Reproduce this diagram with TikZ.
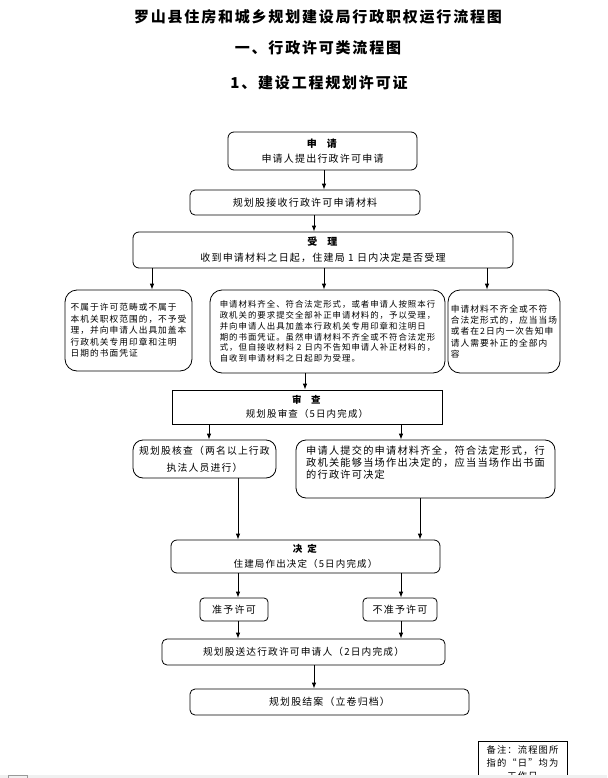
\documentclass[tikz,border=0pt]{standalone}
\usepackage{fontspec}
\newfontfamily\cjk[LetterSpace=12]{Noto Sans CJK SC}
\usetikzlibrary{arrows.meta}
\tikzset{
  bx/.style={draw, line width=0.8pt, inner sep=0pt},
  rb/.style={bx, rounded corners=#1},
  fz/.style 2 args={font=\cjk\fontsize{#1}{#2}\selectfont},
  ttl/.style={font=\cjk\bfseries\fontsize{15}{18}\selectfont},
  arr/.style={line width=0.8pt, -{Latex[length=6pt,width=4.5pt]}},
  ln/.style={line width=0.8pt}
}
\begin{document}
\begin{tikzpicture}[x=1pt,y=-1pt]
\useasboundingbox (0,0) rectangle (607,778);
\clip (0,0) rectangle (607,778);
\fill[white] (0,0) rectangle (607,778);
% titles
\node[ttl] (t1) at (318,17) {罗山县住房和城乡规划建设局行政职权运行流程图};
\node[ttl] (t2) at (318,48) {一、行政许可类流程图};
\node[ttl] (t3) at (319,83) {1、建设工程规划许可证};
% boxes
\node[rb=6pt, minimum width=189pt, minimum height=38pt, fz={10}{15}, align=center] (apply) at (322.5,151) {\textbf{申\quad 请}\\申请人提出行政许可申请};
\node[rb=5pt, minimum width=230pt, minimum height=25pt, fz={10}{15}] (recv) at (305,202.5) {规划股接收行政许可申请材料};
\node[rb=6pt, minimum width=380pt, minimum height=36pt, fz={10}{16}, align=center] (acc) at (323,250) {\textbf{受\quad 理}\\收到申请材料之日起，住建局 1 日内决定是否受理};
\node[rb=12pt, minimum width=127pt, minimum height=81pt, fz={8.7}{11.5}, align=left] (bl) at (128.5,330.5) {不属于许可范畴或不属于\\本机关职权范围的，不予受\\理，并向申请人出具加盖本\\行政机关专用印章和注明\\日期的书面凭证};
\node[rb=12pt, minimum width=235pt, minimum height=83pt, fz={8.4}{10.8}, align=left] (bm) at (327.5,331.5) {申请材料齐全、符合法定形式，或者申请人按照本行\\政机关的要求提交全部补正申请材料的，予以受理，\\并向申请人出具加盖本行政机关专用印章和注明日\\期的书面凭证。虽然申请材料不齐全或不符合法定形\\式，但自接收材料 2 日内不告知申请人补正材料的，\\自收到申请材料之日起即为受理。};
\node[rb=12pt, minimum width=112pt, minimum height=83pt, fz={8.7}{11.2}, align=left] (br) at (504,331.5) {申请材料不齐全或不符\\合法定形式的，应当当场\\或者在2日内一次告知申\\请人需要补正的全部内\\容};
\node[bx, minimum width=270pt, minimum height=34pt, fz={9.5}{14}, align=center] (rev) at (307,407) {\textbf{审\quad 查}\\规划股审查（5日内完成）};
\node[rb=10pt, minimum width=143pt, minimum height=38pt, fz={9.8}{17}, align=center] (rl) at (204.5,459) {规划股核查（两名以上行政\\执法人员进行）};
\node[rb=10pt, minimum width=259pt, minimum height=58pt, fz={10.2}{12}, align=left] (rr) at (425.5,469) {申请人提交的申请材料齐全，符合法定形式，行\\政机关能够当场作出决定的，应当当场作出书面\\的行政许可决定\\[2pt]\mbox{}};
\node[rb=6pt, minimum width=269pt, minimum height=33pt, fz={9.5}{15}, align=center] (dec) at (305.5,556.5) {\textbf{决\, 定}\\住建局作出决定（5日内完成）};
\node[rb=4pt, minimum width=68pt, minimum height=23pt, fz={10}{14}] (yes) at (234,609.5) {准予许可};
\node[rb=4pt, minimum width=74pt, minimum height=23pt, fz={10}{14}] (no) at (400,609.5) {不准予许可};
\node[rb=5pt, minimum width=283pt, minimum height=26pt, fz={9.7}{14}] (del) at (303.5,652) {规划股送达行政许可申请人（2日内完成）};
\node[rb=5pt, minimum width=279pt, minimum height=26pt, fz={9.9}{14}] (cls) at (329.5,702) {规划股结案（立卷归档）};
\node[bx, anchor=north, minimum width=89pt, inner ysep=4pt, fz={9.3}{13}, align=center] (note) at (522.5,741) {备注：流程图所\\指的“日”均为\\工作日};
% bottom strip
\fill[black!6] (0,775) rectangle (607,778);
\draw[black!40, line width=0.6pt] (8,779) -- (8,775.5) -- (27,775.5) -- (27,779);
% x coordinates for connectors
\coordinate (x324) at (324,0);
\coordinate (x314) at (314,0);
\coordinate (x152) at (152,0);
\coordinate (x487) at (487,0);
\coordinate (x305) at (305,0);
\coordinate (x209) at (209,0);
\coordinate (x401) at (401,0);
\coordinate (x238) at (238,0);
\coordinate (x420) at (420,0);
% connectors
\draw[arr] (apply.south -| x324) -- (recv.north -| x324);
\draw[arr] (recv.south -| x314) -- (acc.north -| x314);
\draw[arr] (acc.south -| x152) -- (bl.north -| x152);
\draw[arr] (acc.south -| x324) -- (bm.north -| x324);
\draw[arr] (acc.south -| x487) -- (br.north -| x487);
\draw[arr] (bm.south -| x305) -- (rev.north -| x305);
\draw[arr] (rev.south -| x209) -- (rl.north -| x209);
\draw[arr] (rev.south -| x401) -- (rr.north -| x401);
\draw[arr] (rl.south -| x238) -- (dec.north -| x238);
\draw[arr] (rr.south -| x420) -- (dec.north -| x420);
\draw[arr] (dec.south -| x238) -- (yes.north -| x238);
\draw[arr] (dec.south -| x401) -- (no.north -| x401);
\draw[arr] (yes.south -| x238) -- (del.north -| x238);
\draw[arr] (no.south -| x401) -- (del.north -| x401);
\draw[arr] (del.south -| x314) -- (cls.north -| x314);
\end{tikzpicture}
\end{document}
